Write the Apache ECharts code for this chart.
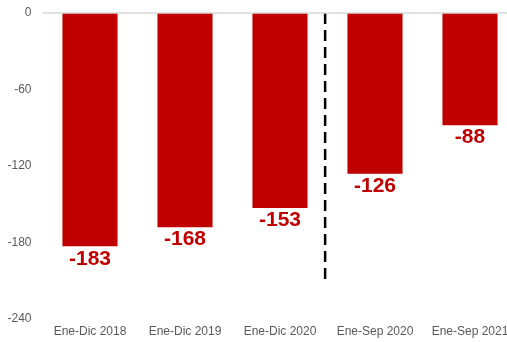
<!DOCTYPE html>
<html lang="es">
<head>
    <meta charset="UTF-8">
    <title>Chart</title>
    <script type="text/javascript" src="https://cdn.jsdelivr.net/npm/echarts@6/dist/echarts.min.js"></script>
    <style>
        html, body { margin: 0; padding: 0; background: #fff; }
        #chart { width: 507px; height: 342px; }
    </style>
</head>
<body>
<div id="chart"></div>
<script type="text/javascript">
    var categories = ['Ene-Dic 2018', 'Ene-Dic 2019', 'Ene-Dic 2020', 'Ene-Sep 2020', 'Ene-Sep 2021'];
    var values = [-183, -168, -153, -126, -88];
    var yTicks = [0, -60, -120, -180, -240];
    // separador entre periodos anuales y enero-septiembre
    var dividerLine = [[2.975, 0], [2.975, -210]];

    var chart = echarts.init(document.getElementById('chart'));
    var option = {
        animation: false,
        grid: { left: 42.5, right: -10.5, top: 13, bottom: 23, outerBoundsMode: 'none', containLabel: false },
        xAxis: [{
            type: 'category',
            data: categories,
            axisLine: { show: false },
            axisTick: { show: false },
            axisLabel: {
                interval: 0,
                hideOverlap: false,
                margin: 7,
                color: '#595959',
                fontFamily: 'Liberation Sans, Arial, sans-serif',
                fontSize: 12
            }
        }, {
            type: 'value',
            min: 0,
            max: 5,
            show: false
        }],
        yAxis: {
            type: 'value',
            min: yTicks[yTicks.length - 1],
            max: yTicks[0],
            interval: 60,
            axisLine: { show: false },
            axisTick: { show: false },
            splitLine: { show: false },
            axisLabel: {
                margin: 11,
                color: '#595959',
                fontFamily: 'Liberation Sans, Arial, sans-serif',
                fontSize: 12
            }
        },
        series: [{
            type: 'bar',
            data: values,
            barWidth: '58%',
            itemStyle: { color: '#C00000' },
            label: {
                show: true,
                position: 'bottom',
                distance: 2,
                color: '#C00000',
                fontWeight: 'bold',
                fontSize: 21,
                fontFamily: 'Liberation Sans, Arial, sans-serif'
            },
            markLine: {
                silent: true,
                symbol: 'none',
                label: { show: false },
                lineStyle: { color: '#d9d9d9', type: 'solid', width: 1.5 },
                data: [{ yAxis: 0 }]
            }
        }, {
            type: 'line',
            xAxisIndex: 1,
            data: dividerLine,
            symbol: 'none',
            silent: true,
            lineStyle: { color: '#000', width: 2.5, type: [11, 6] }
        }]
    };
    chart.setOption(option);
</script>
</body>
</html>
